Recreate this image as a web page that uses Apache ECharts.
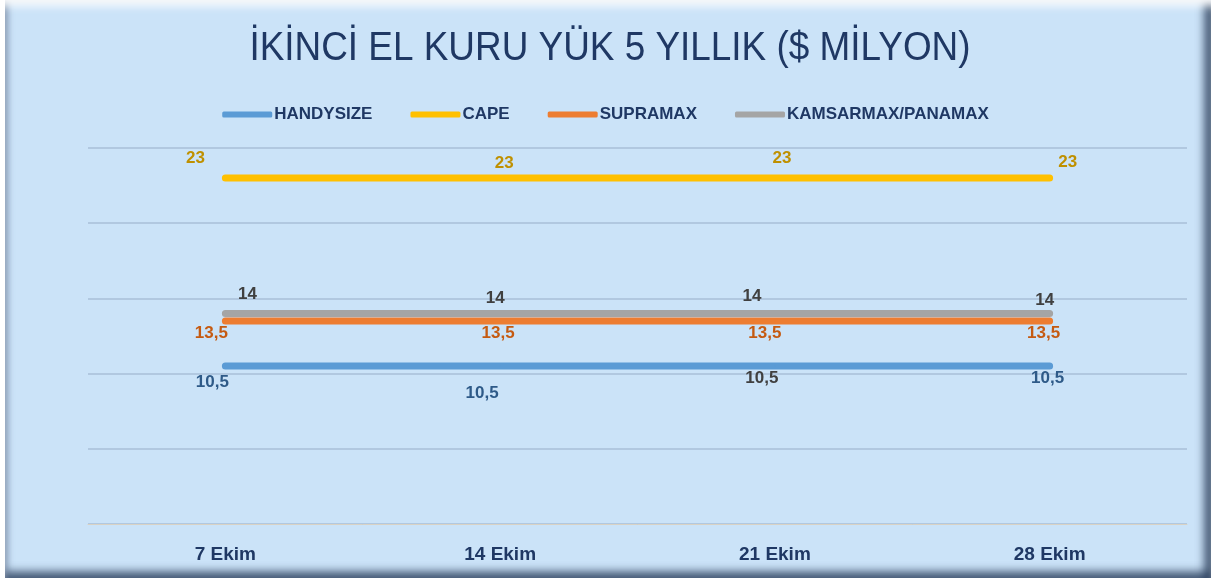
<!DOCTYPE html>
<html>
<head>
<meta charset="utf-8">
<script src="https://cdn.jsdelivr.net/npm/echarts@6/dist/echarts.min.js"></script>
<style>
html,body{margin:0;padding:0;background:#ffffff;}
#wrap{position:absolute;left:5px;top:0;width:1206px;height:578px;background:#cbe3f8;
 box-shadow: inset 0 10px 8px -4px rgba(255,255,255,0.95), inset 6px 0 6px -3px rgba(90,110,140,0.55), inset -10px 0 8px -3px rgba(40,60,90,0.8), inset 0 -10px 8px -3px rgba(40,60,90,0.75);}
#chart{position:absolute;left:0;top:0;width:1211px;height:578px;}
</style>
</head>
<body>
<div id="wrap"></div>
<div id="chart"></div>
<script>
const categories = ['7 Ekim', '14 Ekim', '21 Ekim', '28 Ekim'];
const seriesNames = ['HANDYSIZE', 'CAPE', 'SUPRAMAX', 'KAMSARMAX/PANAMAX'];
const handysize = [10.5, 10.5, 10.5, 10.5];
const cape = [23, 23, 23, 23];
const supramax = [13.5, 13.5, 13.5, 13.5];
const kamsarmax = [14, 14, 14, 14];
const yTicks = [0, 5, 10, 15, 20, 25];
const titleText = 'İKİNCİ EL KURU YÜK 5 YILLIK ($ MİLYON)';

const lineColors = ['#5b9bd5', '#ffc000', '#ed7d31', '#a5a5a5'];
const labelColors = [
  ['#2e5a88', '#2e5a88', '#404040', '#2e5a88'],
  ['#bf9000', '#bf9000', '#bf9000', '#bf9000'],
  ['#c55a11', '#c55a11', '#c55a11', '#c55a11'],
  ['#404040', '#404040', '#404040', '#404040']
];
const labelOffsets = [
  [[-13, 16], [-18, 27], [-13, 12], [-2, 12]],
  [[-30, -20], [4, -15], [7, -20], [18, -16]],
  [[-14, 12], [-2, 12], [-10, 12], [-6, 12]],
  [[22, -19], [-5, -15], [-23, -17], [-5, -13]]
];
const allData = [handysize, cape, supramax, kamsarmax];
const sans = '"Liberation Sans", Arial, sans-serif';

const chart = echarts.init(document.getElementById('chart'), null, {renderer: 'canvas'});
chart.setOption({
  backgroundColor: 'transparent',
  animation: false,
  graphic: [{
    type: 'text',
    x: 610, y: 49,
    scaleX: 0.9,
    style: {
      text: titleText,
      fontFamily: sans, fontSize: 41, fontWeight: 'normal',
      fill: '#1f3864', align: 'center', verticalAlign: 'middle'
    }
  }],
  legend: {
    top: 101, left: 'center',
    itemWidth: 50, itemHeight: 6, itemGap: 38,
    icon: 'roundRect',
    textStyle: {fontFamily: sans, fontSize: 17, fontWeight: 'bold', color: '#1f3864', padding: [0,0,0,-3]},
    data: seriesNames
  },
  grid: {left: 88, right: 24, top: 148, bottom: 54, containLabel: false},
  xAxis: {
    type: 'category', data: categories, boundaryGap: true,
    axisLine: {show: true, lineStyle: {color: '#d9d2c4', width: 1}},
    axisTick: {show: false},
    axisLabel: {fontFamily: sans, fontSize: 19, fontWeight: 'bold', color: '#1f3864', margin: 21}
  },
  yAxis: {
    type: 'value', min: yTicks[0], max: yTicks[yTicks.length - 1], interval: 5,
    axisLabel: {show: false}, axisLine: {show: false}, axisTick: {show: false},
    splitLine: {lineStyle: {color: '#a9bfd9', width: 1.5}}
  },
  series: allData.map((arr, si) => ({
    name: seriesNames[si],
    type: 'line',
    data: arr.map((v, i) => ({
      value: v,
      label: {color: labelColors[si][i], offset: labelOffsets[si][i]}
    })),
    showSymbol: true,
    symbol: 'circle',
    symbolSize: 1,
    z: [2, 2, 4, 3][si],
    lineStyle: {color: lineColors[si], width: 7, cap: 'round'},
    itemStyle: {color: lineColors[si]},
    label: {
      show: true, position: 'inside',
      fontFamily: sans, fontSize: 17, fontWeight: 'bold',
      formatter: p => String(p.value).replace('.', ',')
    }
  }))
});
</script>
</body>
</html>
